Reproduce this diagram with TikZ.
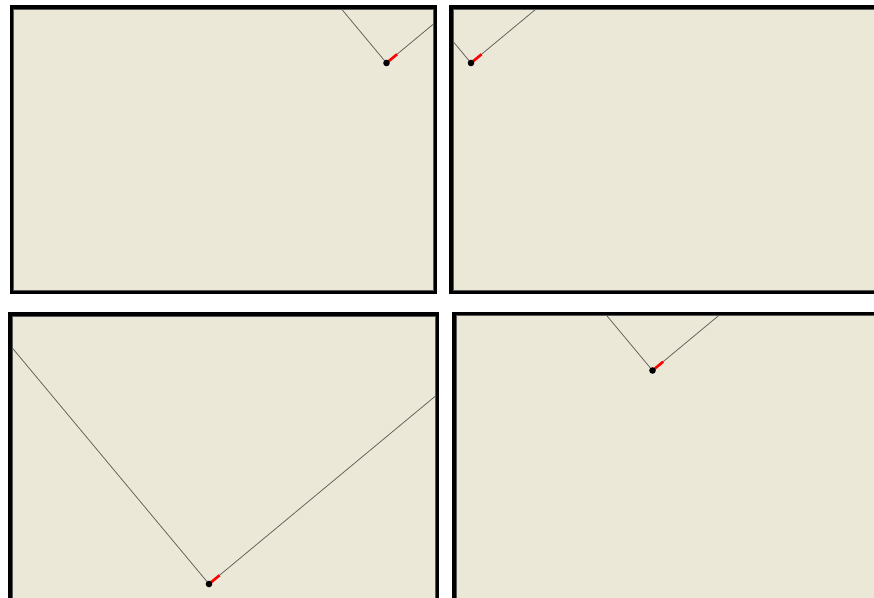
\documentclass[tikz,border=0pt]{standalone}
\usetikzlibrary{arrows}

\definecolor{hintergrund}{RGB}{235,232,216}
\definecolor{linie}{RGB}{95,95,88}

\begin{document}
\begin{tikzpicture}[x=1pt,y=-1pt,thick]

\def\lsteig{1.2}
\def\rsteig{0.83}

\def\fenster#1#2#3#4#5#6{
	\begin{scope}
		\clip (#1,#2) rectangle (#3,#4);
		\fill[color=hintergrund] (#1,#2) rectangle (#3,#4);
		\draw[color=linie,line width=0.75pt] ({#5-400},{#6-400*\lsteig})--(#5,#6)--({#5+500},{#6-500*\rsteig});
		\draw[color=red,line width=2.6pt] (#5,#6)--({#5+10.5},{#6-10.5*\rsteig});
		\fill (#5,#6) circle[radius=3.3pt];
	\end{scope}
	\draw[line width=3.6pt] (#1,#2) rectangle (#3,#4);
	\draw[color=black!65,line width=0.8pt] ({#1+2},{#2+2}) rectangle ({#3-2},{#4-2});
}

\clip (0,0) rectangle (874,597);
\fill[white] (0,0) rectangle (874,597);

\fenster{11.5}{7}{435}{292}{386.5}{63}
\fenster{451}{7}{880}{292}{471}{63}
\fenster{10}{314}{437}{603}{209}{584}
\fenster{454}{313.5}{880}{603}{652.5}{370.5}

\end{tikzpicture}
\end{document}
